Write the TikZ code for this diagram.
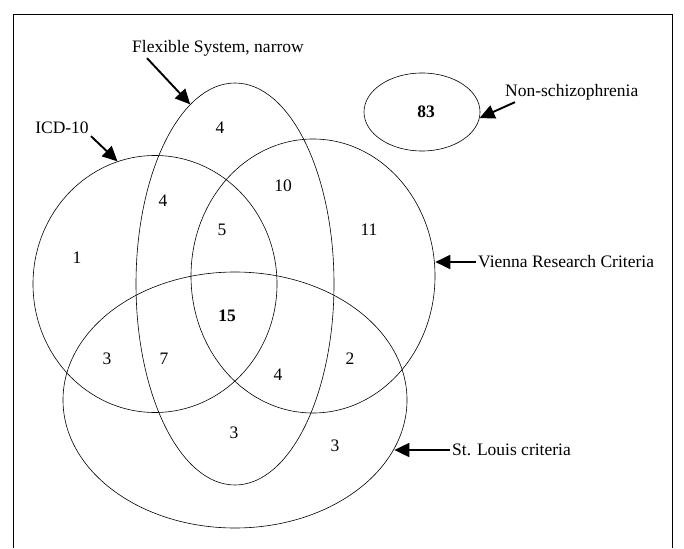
\documentclass[tikz,border=0pt]{standalone}
\usepackage{fontspec}
\setmainfont{Liberation Serif}
\usetikzlibrary{shapes, arrows.meta, positioning, calc}

\begin{document}
\begin{tikzpicture}[x=1pt, y=-1pt, font=\fontsize{17.5}{20}\selectfont]
    \tikzstyle{set}=[ellipse, draw, line width=0.6pt, inner sep=0pt]
    \tikzstyle{count}=[inner sep=1pt]
    \tikzstyle{setname}=[inner sep=2pt]
    \tikzstyle{pointer}=[-{Triangle[length=15pt, width=14pt]}, line width=1.9pt]

    \useasboundingbox (0,0) rectangle (684,548);
    \draw[line width=0.9pt] (13,548) |- (672,14) -- (672,548);

    % the five sets
    \node[set, minimum width=244pt, minimum height=257pt] (icd) at (155,284) {};
    \node[set, minimum width=198pt, minimum height=402pt] (flex) at (235,284) {};
    \node[set, minimum width=244pt, minimum height=274pt] (vienna) at (313,276) {};
    \node[set, minimum width=344pt, minimum height=256pt] (stlouis) at (235,400) {};
    \node[set, minimum width=116pt, minimum height=78pt] (nonschizo) at (422,112) {};

    % names of the sets
    \node[setname] (flexname) at (218,48) {Flexible System, narrow};
    \node[setname] (icdname) at (62,128) {ICD-10};
    \node[setname, anchor=west] (nonschizoname) at (503,92) {Non-schizophrenia};
    \node[setname, anchor=west] (viennaname) at (476,262) {Vienna Research Criteria};
    \node[setname, anchor=west] (stlouisname) at (450,450) {St. Louis criteria};

    \draw[pointer] ([xshift=17pt]flexname.south west) -- (flex.104.5);
    \draw[pointer] (icdname.south east) -- (icd.107);
    \draw[pointer] ([xshift=12pt]nonschizoname.south west) -- (nonschizo.-6);
    \draw[pointer] (viennaname.west) -- (viennaname.west -| vienna.east);
    \draw[pointer] (stlouisname.west) -- (stlouisname.west -| stlouis.-17.6);

    % counts
    \node[count] (onlyflex) at (220,128) {4};
    \node[count] (flexvienna) at (283,186) {10};
    \node[count] (icdflex) at (163,201) {4};
    \node[count] (onlyvienna) at (369,230) {11};
    \node[count] (icdflexvienna) at (222,230) {5};
    \node[count] (onlyicd) at (77,258) {1};
    \node[count] (allfour) at (227,316) {\textbf{15}};
    \node[count] (icdstl) at (107,359) {3};
    \node[count] (icdflexstl) at (164,359) {7};
    \node[count] (flexviennastl) at (278,375) {4};
    \node[count] (viennastl) at (350,359) {2};
    \node[count] (flexstl) at (234,433) {3};
    \node[count] (onlystl) at (335,446) {3};
    \node[count] (nonschizocount) at (426,112) {\textbf{83}};
\end{tikzpicture}
\end{document}
